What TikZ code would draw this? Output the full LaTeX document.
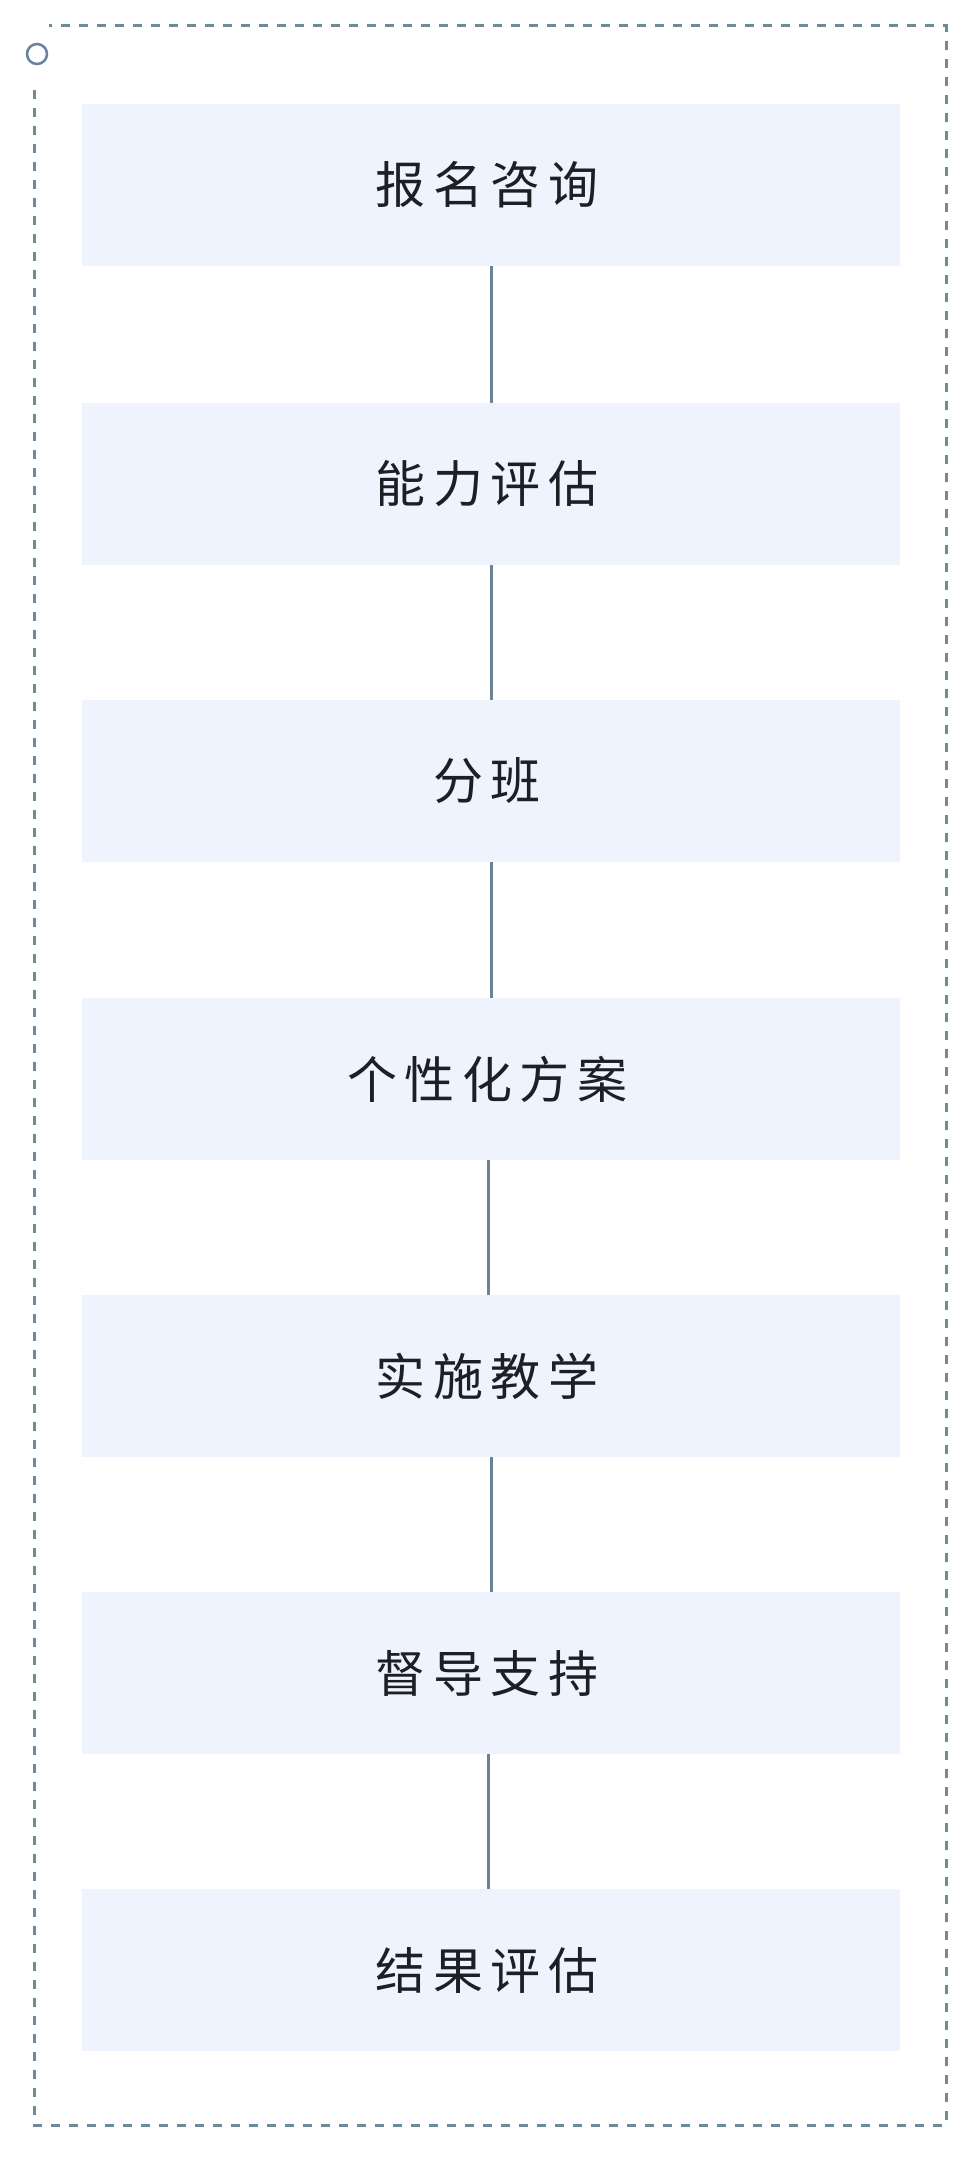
\documentclass[tikz,border=0pt]{standalone}
\usepackage{fontspec}
\newfontfamily\cjk[LetterSpace=15]{Noto Sans CJK SC}
\definecolor{boxfill}{HTML}{EFF3FE}
\definecolor{framec}{HTML}{6F8A98}
\definecolor{linec}{HTML}{6B8397}
\definecolor{circc}{HTML}{6A80A0}
\definecolor{textc}{HTML}{1C1F24}
\begin{document}
\begin{tikzpicture}[x=1pt,y=-1pt,
  stepbox/.style={rectangle, fill=boxfill, draw=none, minimum width=818pt, minimum height=162pt, inner sep=0pt,
    text=textc, font=\cjk\fontsize{50}{58}\selectfont, execute at end node={\hspace{8pt}}},
  conn/.style={draw=linec, line width=3pt},
  frame/.style={draw=framec, line width=3pt, dash pattern=on 9pt off 9pt}]
\useasboundingbox (0,0) rectangle (974,2157);
\fill[white] (0,0) rectangle (974,2157);
\node[stepbox] (b1) at (491,185) {报名咨询};
\node[stepbox] (b2) at (491,484) {能力评估};
\node[stepbox] (b3) at (491,781) {分班};
\node[stepbox] (b4) at (491,1079) {个性化方案};
\node[stepbox] (b5) at (491,1376) {实施教学};
\node[stepbox] (b6) at (491,1673) {督导支持};
\node[stepbox] (b7) at (491,1970) {结果评估};
\draw[conn] (b1.south) -- (b2.north);
\draw[conn] (b2.south) -- (b3.north);
\draw[conn] (b3.south) -- (b4.north);
\draw[conn] ([xshift=-3pt]b4.south) -- ([xshift=-3pt]b5.north);
\draw[conn] (b5.south) -- (b6.north);
\draw[conn] ([xshift=-3pt]b6.south) -- ([xshift=-3pt]b7.north);
\coordinate (f1) at (34,90);
\coordinate (f2) at (34,2125);
\coordinate (f3) at (946,2125);
\coordinate (f4) at (946,26);
\coordinate (f5) at (49,26);
\draw[frame] (f1) -- (f2) -- (f3) -- (f4) -- (f5);
\node[circle, draw=circc, line width=2.5pt, minimum size=20pt, inner sep=0pt] (c) at (37,54) {};
\end{tikzpicture}
\end{document}
